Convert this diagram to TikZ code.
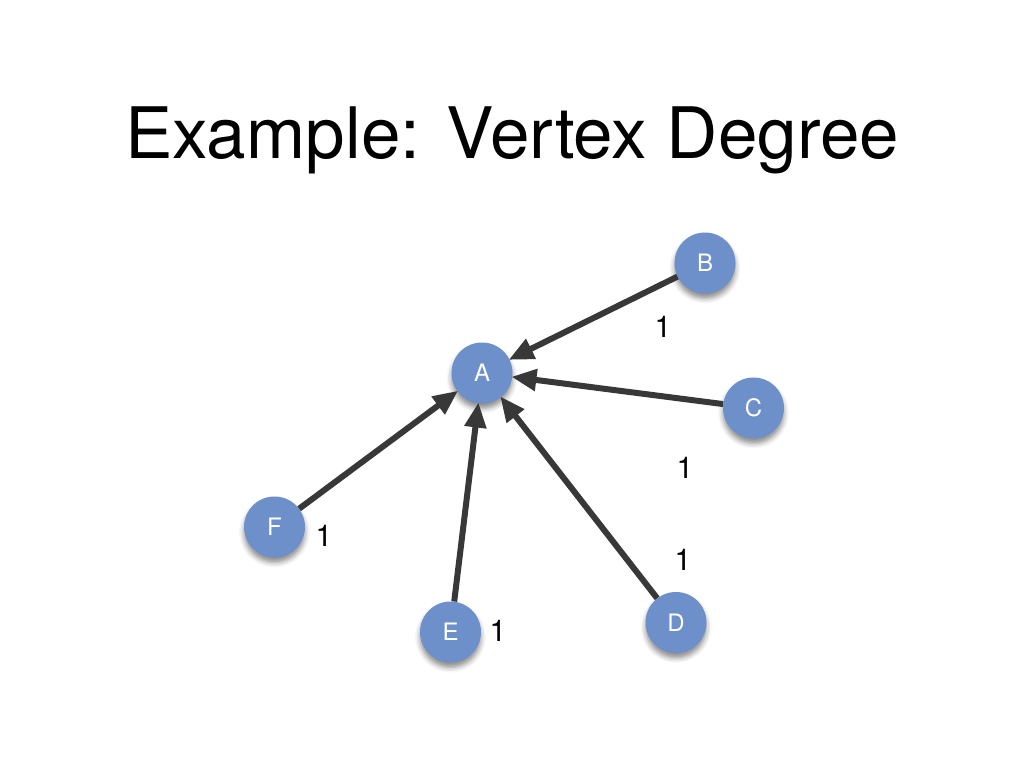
\documentclass[tikz,border=0pt]{standalone}
\usepackage{fontspec}
\setmainfont{TeX Gyre Heros}
\usetikzlibrary{arrows.meta,shadows.blur}
\definecolor{nodeblue}{HTML}{6D8FCA}
\definecolor{edgegray}{HTML}{383838}
\tikzset{
  vertex/.style={circle, fill=nodeblue, minimum size=61pt, inner sep=0pt,
    text=white, font=\fontsize{24}{24}\selectfont,
    blur shadow={shadow xshift=0pt, shadow yshift=-5pt, shadow blur radius=5pt, shadow opacity=45}},
  edgearrow/.style={draw=edgegray, line width=6pt,
    -{Triangle[length=25pt,width=21pt]}, shorten >=-1pt},
  weight/.style={font=\fontsize{30}{30}\selectfont, text=black, inner sep=0pt},
  title/.style={font=\fontsize{71}{71}\selectfont, anchor=base, inner sep=0pt}
}
\begin{document}
\begin{tikzpicture}[x=1pt,y=-1pt]
\useasboundingbox (0,0) rectangle (1024,768);
\node[title] (t) at (512,158) {Example: Vertex Degree};
\node[vertex] (A) at (482,373) {A};
\node[vertex] (B) at (705,263) {B};
\node[vertex] (C) at (753.5,408) {C};
\node[vertex] (D) at (676,622.5) {D};
\node[vertex] (E) at (450.5,632) {E};
\node[vertex] (F) at (274.5,527) {F};
\draw[edgearrow] (B) -- (A);
\draw[edgearrow] (C) -- (A);
\draw[edgearrow] (D) -- (A);
\draw[edgearrow] (E) -- (A);
\draw[edgearrow] (F) -- (A);
\node[weight] (wB) at (663,327) {1};
\node[weight] (wC) at (685,468) {1};
\node[weight] (wD) at (683,560) {1};
\node[weight] (wE) at (498,631) {1};
\node[weight] (wF) at (324,536) {1};
\end{tikzpicture}
\end{document}
